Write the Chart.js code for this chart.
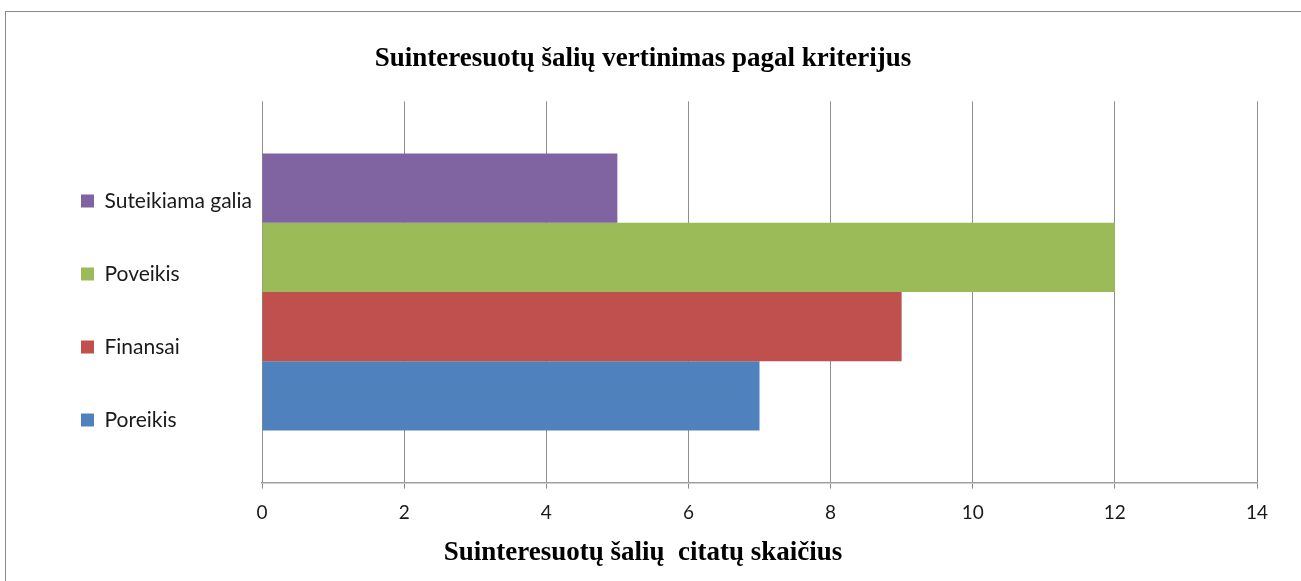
<!DOCTYPE html>
<html lang="lt">
<head>
    <meta charset="UTF-8">
    <title>Suinteresuotų šalių vertinimas pagal kriterijus</title>
    <script src="https://cdn.jsdelivr.net/npm/chart.js"></script>
    <style>
        html, body {
            margin: 0;
            padding: 0;
            background: #ffffff;
            overflow: hidden;
        }
        .frame {
            position: absolute;
            left: 5px;
            top: 11px;
            width: 1295px;
            height: 569px;
            border-top: 1px solid #8a8a8a;
            border-left: 1px solid #8a8a8a;
        }
        canvas {
            display: block;
        }
    </style>
</head>
<body>
    <div class="frame">
        <canvas id="chart" width="1295" height="569"></canvas>
    </div>

    <script>
        // Data (top to bottom, as drawn)
        const criteria = ['Suteikiama galia', 'Poveikis', 'Finansai', 'Poreikis'];
        const citations = [5, 12, 9, 7];
        const colors = ['#8064A2', '#9BBB59', '#C0504D', '#4F81BD'];
        const xTicks = [0, 2, 4, 6, 8, 10, 12, 14];

        const chartTitle = 'Suinteresuotų šalių vertinimas pagal kriterijus';
        const axisTitle = 'Suinteresuotų šalių  citatų skaičius';

        // one bar per criterion, all in a single category
        const datasets = criteria.map((name, i) => ({
            label: name,
            data: [citations[i]],
            backgroundColor: colors[i],
            borderWidth: 0,
            categoryPercentage: 0.727,
            barPercentage: 1.0
        }));

        const serif = '"Liberation Serif", "Times New Roman", serif';
        const sans = 'Lato, "Open Sans", sans-serif';

        const ctx = document.getElementById('chart').getContext('2d');

        new Chart(ctx, {
            type: 'bar',
            data: {
                labels: [''],
                datasets: datasets
            },
            options: {
                indexAxis: 'y',
                responsive: false,
                animation: false,
                layout: {
                    padding: { left: 23, right: 44, top: 0, bottom: 0 }
                },
                plugins: {
                    title: {
                        display: true,
                        text: chartTitle,
                        color: '#000000',
                        font: { family: serif, size: 27, weight: 'bold' },
                        padding: { top: 31, bottom: 26 }
                    },
                    subtitle: {
                        display: true,
                        position: 'bottom',
                        text: axisTitle,
                        color: '#000000',
                        font: { family: serif, size: 27, weight: 'bold' },
                        padding: { top: 0, bottom: 12 }
                    },
                    legend: {
                        position: 'left',
                        align: 'end',
                        fullSize: false,
                        labels: {
                            boxWidth: 13,
                            boxHeight: 13,
                            padding: 52,
                            color: '#1a1a1a',
                            font: { family: sans, size: 21 }
                        }
                    },
                    tooltip: { enabled: false }
                },
                scales: {
                    x: {
                        min: 0,
                        max: 14,
                        afterBuildTicks: (scale) => {
                            scale.ticks = xTicks.map(v => ({ value: v }));
                        },
                        grid: {
                            color: '#8e8e8e',
                            lineWidth: 1,
                            drawTicks: true,
                            tickLength: 6,
                            tickColor: '#8e8e8e'
                        },
                        border: {
                            display: true,
                            color: '#a0a0a0',
                            width: 1.5
                        },
                        ticks: {
                            color: '#1a1a1a',
                            padding: 12.6,
                            font: { family: sans, size: 19 }
                        }
                    },
                    y: {
                        display: false
                    }
                }
            }
        });
    </script>
</body>
</html>
